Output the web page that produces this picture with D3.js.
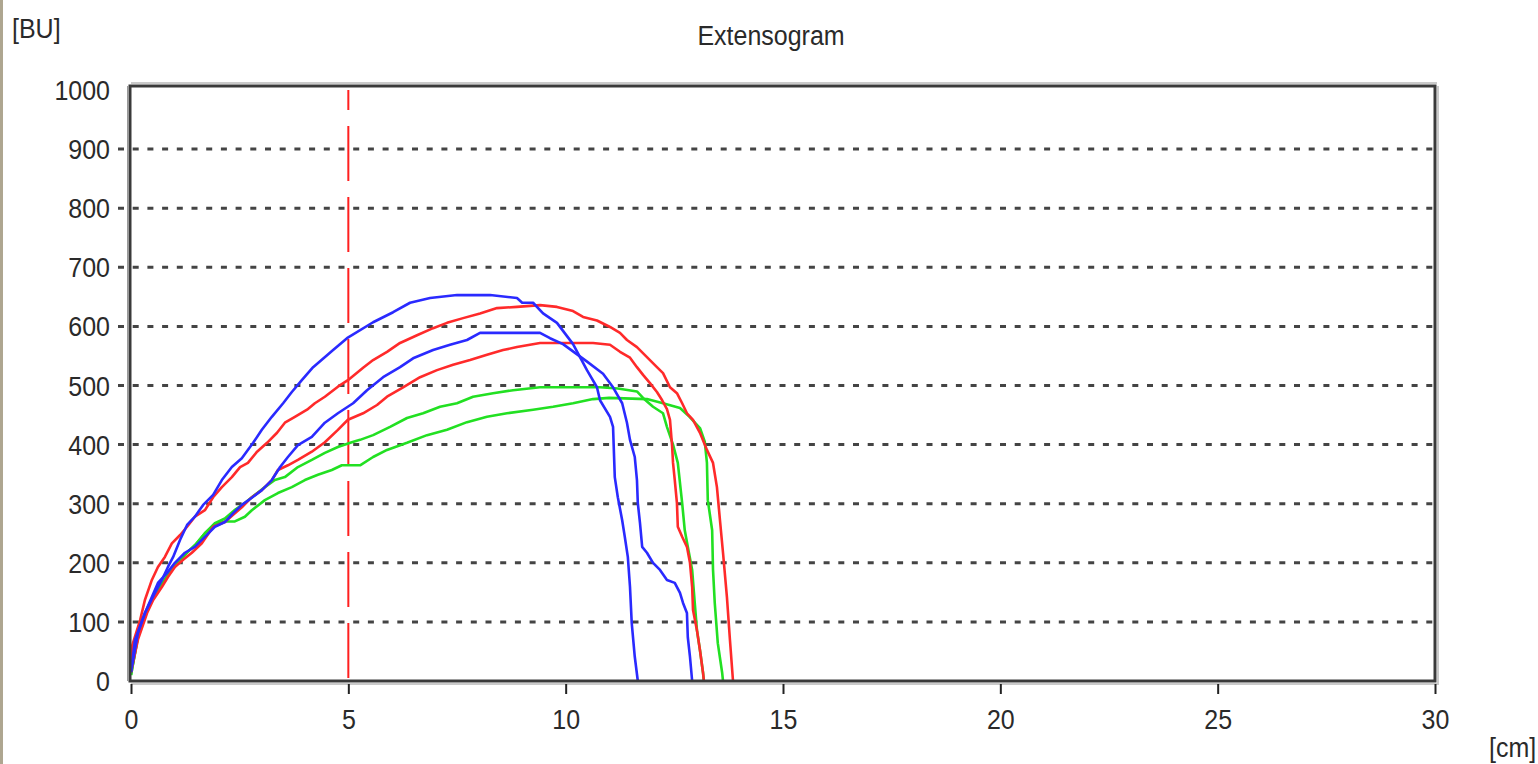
<!DOCTYPE html>
<html>
<head>
<meta charset="utf-8">
<script src="https://cdn.jsdelivr.net/npm/d3@7"></script>
<style>
  html, body { margin: 0; padding: 0; background: #fff; }
  svg { display: block; }
  text { font-family: "Liberation Sans", Arial, sans-serif; fill: #2a2a2a; }
</style>
</head>
<body>
<div id="chart"></div>
<script>
// axis ticks
const cmTicks = [0, 5, 10, 15, 20, 25, 30];
const buTicks = [0, 100, 200, 300, 400, 500, 600, 700, 800, 900, 1000];
const gridTicks = [100, 200, 300, 400, 500, 600, 700, 800, 900];
const markerCm = 5;

// curves: [cm, BU]
const blueHigh = [[0,15],[0.09,69],[0.32,115],[0.55,149],[0.71,171],[0.85,193],[0.97,210],[1.13,239],[1.29,264],[1.47,278],[1.66,298],[1.89,315],[2.09,340],[2.32,362],[2.55,377],[2.81,403],[3.01,425],[3.24,447],[3.5,470],[3.7,489],[3.93,509],[4.19,531],[4.65,560],[4.97,580],[5.57,607],[6.03,624],[6.42,640],[6.88,648],[7.5,653],[8.26,653],[8.88,648],[9.0,640],[9.25,640],[9.48,622],[9.8,606],[10.17,570],[10.49,526],[10.72,497],[10.79,475],[11.02,447],[11.09,430],[11.13,345],[11.2,311],[11.3,272],[11.36,244],[11.43,210],[11.48,159],[11.52,98],[11.59,41],[11.66,0]];
const blueLow = [[0,15],[0.16,81],[0.32,115],[0.48,142],[0.62,166],[0.83,183],[1.01,200],[1.24,217],[1.47,227],[1.7,244],[1.93,261],[2.16,269],[2.35,284],[2.55,298],[2.78,310],[3.01,323],[3.24,340],[3.43,362],[3.61,379],[3.84,399],[4.16,413],[4.46,437],[4.76,453],[5.11,470],[5.43,492],[5.8,514],[6.19,531],[6.49,546],[6.95,560],[7.34,569],[7.73,577],[8.03,589],[8.65,589],[9.41,589],[9.64,580],[9.94,570],[10.2,556],[10.5,540],[10.86,520],[11.09,497],[11.3,470],[11.41,437],[11.48,408],[11.59,379],[11.64,340],[11.66,301],[11.71,267],[11.76,227],[11.87,217],[12.01,200],[12.17,188],[12.33,171],[12.51,166],[12.63,149],[12.7,132],[12.79,115],[12.81,74],[12.86,41],[12.91,0]];
const redHigh = [[0,15],[0.02,58],[0.21,103],[0.32,137],[0.48,171],[0.62,193],[0.78,210],[0.94,233],[1.13,247],[1.29,261],[1.47,278],[1.7,289],[1.89,311],[2.09,328],[2.32,345],[2.51,362],[2.69,369],[2.9,388],[3.13,403],[3.36,420],[3.54,437],[3.77,447],[4.05,459],[4.23,470],[4.46,481],[4.76,498],[4.99,509],[5.34,530],[5.57,543],[5.89,557],[6.19,572],[6.58,585],[6.95,597],[7.27,606],[7.64,614],[8.03,622],[8.42,631],[8.88,633],[9.41,636],[9.8,633],[10.17,626],[10.4,616],[10.72,610],[11.02,599],[11.25,589],[11.41,577],[11.64,565],[11.87,548],[12.1,531],[12.24,521],[12.4,497],[12.56,487],[12.68,470],[12.79,453],[12.93,442],[13.09,420],[13.25,391],[13.39,369],[13.48,328],[13.55,272],[13.62,217],[13.71,142],[13.78,69],[13.85,0]];
const redLow = [[0,15],[0.16,70],[0.37,115],[0.51,137],[0.71,159],[0.85,176],[1.01,193],[1.2,205],[1.4,217],[1.63,233],[1.89,261],[2.16,269],[2.39,284],[2.55,294],[2.78,311],[3.01,323],[3.24,340],[3.38,357],[3.61,365],[3.84,374],[4.16,388],[4.46,404],[4.76,425],[4.99,442],[5.34,453],[5.66,467],[5.89,481],[6.26,497],[6.65,514],[7.04,526],[7.41,535],[7.8,543],[8.19,552],[8.56,560],[8.88,565],[9.41,572],[10.03,572],[10.63,572],[11.02,569],[11.25,557],[11.48,547],[11.64,531],[11.78,518],[11.94,504],[12.1,489],[12.22,475],[12.33,460],[12.4,442],[12.45,396],[12.47,369],[12.51,340],[12.56,301],[12.58,261],[12.68,244],[12.79,227],[12.86,200],[12.91,159],[12.93,120],[13.02,86],[13.09,52],[13.16,14],[13.18,0]];
const greenHigh = [[0,10],[0.16,75],[0.32,112],[0.5,140],[0.7,163],[0.9,185],[1.1,203],[1.3,218],[1.5,232],[1.7,250],[1.93,267],[2.16,275],[2.4,290],[2.6,300],[2.78,311],[3.08,328],[3.31,340],[3.54,345],[3.84,362],[4.16,374],[4.46,386],[4.76,396],[5.08,404],[5.27,408],[5.57,416],[5.96,430],[6.35,445],[6.72,453],[7.11,464],[7.5,470],[7.87,481],[8.33,487],[8.79,492],[9.41,497],[10.79,497],[11.2,495],[11.64,490],[11.78,479],[12.01,464],[12.24,453],[12.33,430],[12.47,400],[12.58,369],[12.68,301],[12.74,255],[12.81,227],[12.91,188],[12.97,132],[13.02,86],[13.09,52],[13.16,14],[13.18,0]];
const greenLow = [[0,10],[0.16,75],[0.32,112],[0.5,140],[0.7,163],[0.9,185],[1.1,203],[1.3,218],[1.5,232],[1.7,250],[1.93,265],[2.16,270],[2.39,270],[2.62,278],[2.78,289],[3.08,306],[3.38,318],[3.7,328],[4.0,340],[4.3,349],[4.62,357],[4.85,365],[5.27,365],[5.57,379],[5.89,391],[6.35,403],[6.81,416],[7.27,425],[7.73,438],[8.19,447],[8.65,453],[9.25,459],[9.71,464],[10.17,470],[10.63,477],[11.0,479],[11.87,477],[12.24,470],[12.63,462],[12.85,447],[13.09,428],[13.2,405],[13.25,369],[13.27,306],[13.37,255],[13.39,188],[13.43,132],[13.5,64],[13.6,14],[13.62,0]];

const series = [
    { name: "greenLow", color: "#22e022", points: greenLow },
    { name: "greenHigh", color: "#22e022", points: greenHigh },
    { name: "redLow", color: "#ff2a2a", points: redLow },
    { name: "redHigh", color: "#ff2a2a", points: redHigh },
    { name: "blueLow", color: "#2a2aff", points: blueLow },
    { name: "blueHigh", color: "#2a2aff", points: blueHigh }
];

const canvasWidth = 1538;
const canvasHeight = 764;
const stretch = 1.12;   // the source text is a little taller than wide

const svg = d3.select("#chart")
    .append("svg")
    .attr("width", canvasWidth)
    .attr("height", canvasHeight);

const xScale = d3.scaleLinear().domain([0, 30]).range([131, 1435]);
const yScale = d3.scaleLinear().domain([0, 1000]).range([681, 90]);

const plotLeft = xScale(0), plotRight = xScale(30);
const plotBottom = yScale(0), plotTop = yScale(1000) - 4;

// window edge strip on the left
svg.append("rect")
    .attr("x", 0).attr("y", 0)
    .attr("width", 3).attr("height", canvasHeight)
    .attr("fill", "#aea690");

// titles
svg.append("text")
    .attr("transform", `translate(771,45) scale(1,${stretch})`)
    .attr("text-anchor", "middle")
    .attr("font-size", 25)
    .text("Extensogram");

svg.append("text")
    .attr("transform", `translate(12,38) scale(1,${stretch})`)
    .attr("font-size", 25)
    .text("[BU]");

svg.append("text")
    .attr("transform", `translate(1489,757) scale(1,${stretch})`)
    .attr("font-size", 25)
    .text("[cm]");

// dotted grid lines
svg.append("g")
    .attr("class", "grid")
    .selectAll("line")
    .data(gridTicks)
    .join("line")
    .attr("x1", plotLeft - 13)
    .attr("x2", plotRight)
    .attr("y1", d => yScale(d))
    .attr("y2", d => yScale(d))
    .attr("stroke", "#444")
    .attr("stroke-width", 3)
    .attr("stroke-dasharray", "6,8.7");

// red marker line at 5 cm
svg.append("line")
    .attr("x1", xScale(markerCm)).attr("x2", xScale(markerCm))
    .attr("y1", yScale(1000)).attr("y2", yScale(0))
    .attr("stroke", "#ff1f1f")
    .attr("stroke-width", 2)
    .attr("stroke-dasharray", "55,16")
    .attr("stroke-dashoffset", 35);

// curves
const line = d3.line()
    .x(d => xScale(d[0]))
    .y(d => yScale(d[1]));

svg.append("g")
    .selectAll("path")
    .data(series)
    .join("path")
    .attr("class", d => d.name)
    .attr("fill", "none")
    .attr("stroke", d => d.color)
    .attr("stroke-width", 2.6)
    .attr("stroke-linejoin", "round")
    .attr("d", d => line(d.points));

// frame with a soft shadow
svg.append("path")
    .attr("d", `M${plotLeft},${plotTop - 3}H${plotRight + 2}M${plotRight + 3},${plotTop}V${plotBottom + 3}H${plotLeft}`)
    .attr("fill", "none")
    .attr("stroke", "#cacaca")
    .attr("stroke-width", 2);

svg.append("rect")
    .attr("x", plotLeft - 1).attr("y", plotTop)
    .attr("width", plotRight - plotLeft + 1).attr("height", plotBottom - plotTop)
    .attr("fill", "none")
    .attr("stroke", "#3a3a3a")
    .attr("stroke-width", 3);

svg.append("line")
    .attr("x1", plotLeft - 3).attr("x2", plotLeft - 3)
    .attr("y1", plotTop).attr("y2", plotBottom)
    .attr("stroke", "#9a9a9a")
    .attr("stroke-width", 2);

// x axis
const xAxis = d3.axisBottom(xScale).tickValues(cmTicks).tickSize(13).tickPadding(0);
const xAxisG = svg.append("g")
    .attr("transform", `translate(0,${plotBottom})`)
    .call(xAxis);
xAxisG.select(".domain").remove();
xAxisG.selectAll(".tick line")
    .attr("stroke", "#222")
    .attr("stroke-width", 2)
    .attr("y1", 3);
xAxisG.selectAll(".tick text")
    .attr("y", null).attr("dy", null)
    .attr("transform", `translate(0,48) scale(1,${stretch})`)
    .attr("font-size", 25)
    .attr("fill", "#2a2a2a");

// y axis
const yAxis = d3.axisLeft(yScale).tickValues(buTicks).tickFormat(d3.format("d")).tickSize(0).tickPadding(0);
const yAxisG = svg.append("g")
    .attr("transform", `translate(${plotLeft},0)`)
    .call(yAxis);
yAxisG.select(".domain").remove();
yAxisG.selectAll(".tick text")
    .attr("x", null).attr("dy", null)
    .attr("transform", `translate(-21,9.5) scale(1,${stretch})`)
    .attr("font-size", 25)
    .attr("fill", "#2a2a2a");
</script>
</body>
</html>
